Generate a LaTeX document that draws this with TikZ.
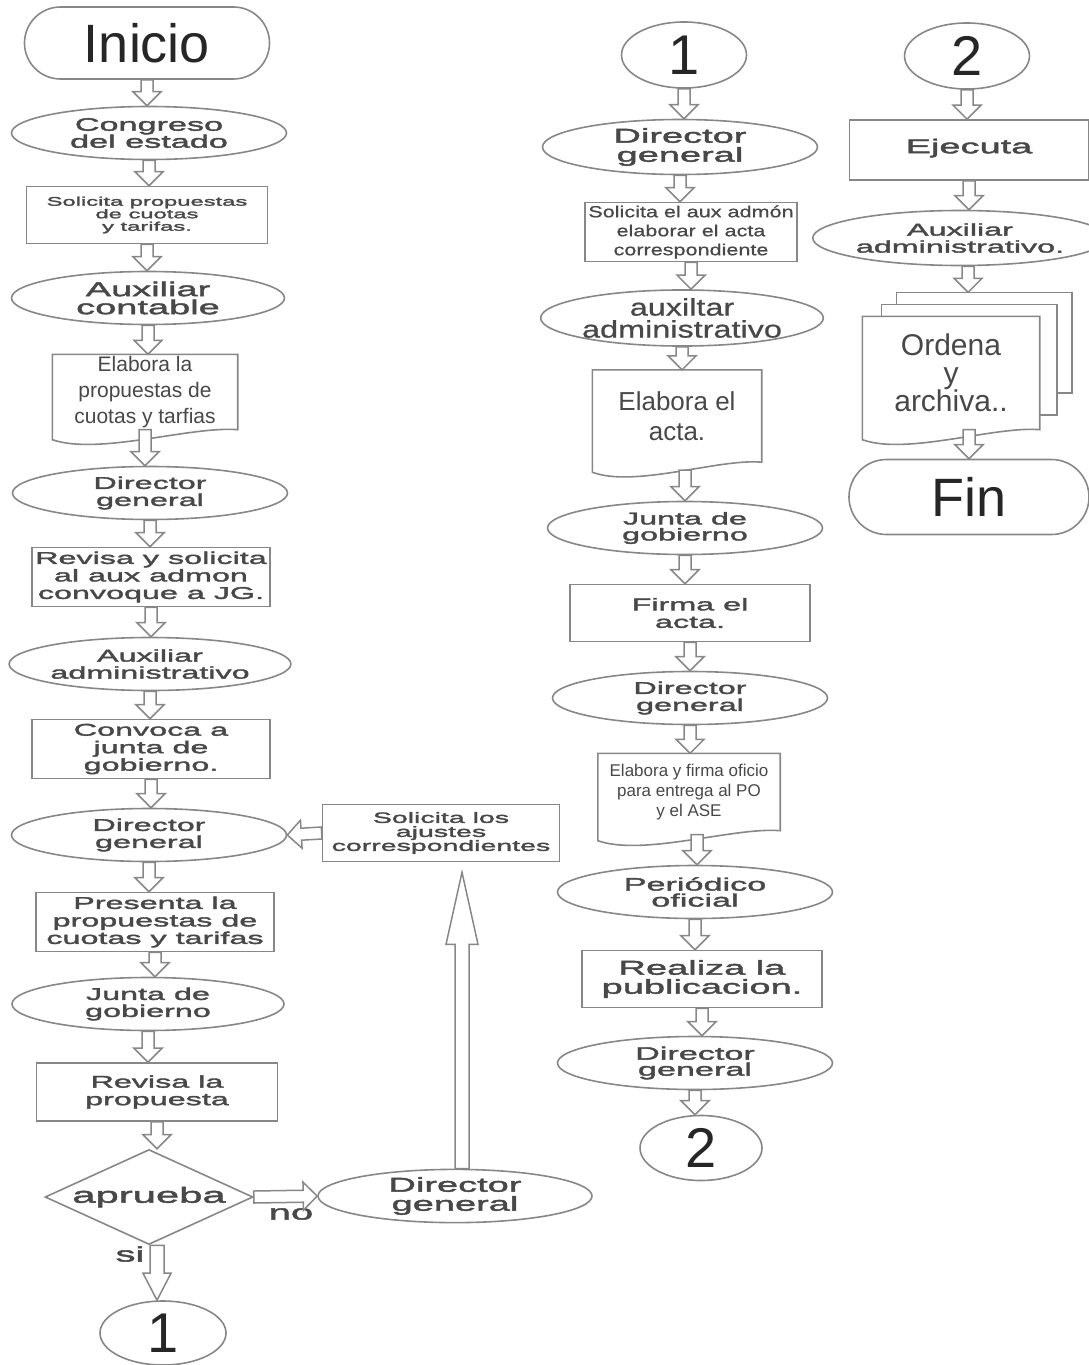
\documentclass[tikz,border=0pt]{standalone}
\usepackage{fontspec}
\setmainfont{Liberation Sans}
\newfontfamily\ancha[FakeStretch=1.9,FakeBold=2.2]{Liberation Sans}
\newfontfamily\media[FakeStretch=1.35,FakeBold=0.8]{Liberation Sans}
\usetikzlibrary{shapes.geometric,shapes.misc,calc,backgrounds}

\definecolor{linea}{RGB}{135,135,135}
\definecolor{texto}{RGB}{72,72,72}
\newcommand\fa[2]{\fontsize{#1}{#2}\selectfont}

\def\fcuer{6pt}\def\fpun{14pt}\def\fcab{14pt}
\newcommand\flecha[2]{%
  \coordinate (fa) at (#1);
  \coordinate (fb) at (#2);
  \coordinate (fh) at ($(fb)!\fcab!(fa)$);
  \draw [hueca] ($(fa)!\fcuer!90:(fb)$) -- ($(fh)!\fcuer!90:(fb)$) -- ($(fh)!\fpun!90:(fb)$)
    -- (fb) -- ($(fh)!\fpun!-90:(fb)$) -- ($(fh)!\fcuer!-90:(fb)$) -- ($(fa)!\fcuer!-90:(fb)$) -- cycle;}
\newcommand\bajar[2]{\flecha{#1.south}{#1.south |- #2.north}}
\newcommand\documento[1]{%
  \begin{scope}[on background layer]
  \draw [borde, fill=white] (#1.south east) -- (#1.north east) -- (#1.north west)
    -- ($(#1.south west)+(0,10)$) .. controls ($(#1.south west)!0.5!(#1.south)+(0,26)$)
    and ($(#1.south east)!0.5!(#1.south)+(0,-4)$) .. (#1.south east) -- cycle;
  \end{scope}}

\begin{document}
\begin{tikzpicture}[x=1pt, y=-1pt,
  borde/.style={draw=linea, line width=1.6pt},
  hueca/.style={draw=linea, line width=1.5pt, fill=white, line join=miter},
  elipse/.style={ellipse, borde, align=center, inner sep=0pt, text=texto,
    minimum width=275, minimum height=53, font=\ancha\fa{17}{17}},
  caja/.style={rectangle, borde, align=center, inner sep=0pt, text=texto,
    minimum width=238, minimum height=59, font=\ancha\fa{17}{17.5}},
  doc/.style={rectangle, align=center, inner sep=0pt, text=texto},
  term/.style={rounded rectangle, borde, inner sep=0pt, text=black!85,
    minimum width=245, minimum height=72, font=\fa{54}{54}},
  conector/.style={ellipse, borde, inner sep=0pt, text=black!85,
    minimum width=125, minimum height=66, font=\fa{56}{56}},
  decision/.style={diamond, aspect=2.2, borde, inner sep=0pt, text=texto,
    minimum width=208, minimum height=95, font=\ancha\fa{22}{22}},
  etiqueta/.style={inner sep=0pt, text=texto, font=\ancha\fa{21}{21}}]

\useasboundingbox (0,0) rectangle (1089,1365);

% columna izquierda
\node [term] (inicio) at (147,43) {Inicio};
\node [elipse, font=\ancha\fa{18}{17}] (congreso) at (149,133) {Congreso\\del estado};
\node [caja, minimum width=241, minimum height=57, font=\ancha\fa{12.5}{12.5}] (solprop) at (147,215) {Solicita propuestas\\de cuotas\\y tarifas.};
\node [elipse, minimum width=273, font=\ancha\fa{20}{18}] (auxcont) at (148,298) {Auxiliar\\contable};
\node [doc, minimum width=185, minimum height=75, font=\fa{21}{26}] (elabprop) at (145,392) {Elabora la\\propuestas de\\cuotas y tarfias};
\node [elipse] (dir1) at (150,493) {Director\\general};
\node [caja] (revisa) at (151,577) {Revisa y solicita\\al aux admon\\convoque a JG.};
\node [elipse] (auxadm1) at (150,664) {Auxiliar\\administrativo};
\node [caja] (convoca) at (151,749) {Convoca a\\junta de\\gobierno.};
\node [elipse] (dir2) at (149,835) {Director\\general};
\node [caja] (presenta) at (155,922) {Presenta la\\propuestas de\\cuotas y tarifas};
\node [elipse, minimum width=272] (junta1) at (148,1004) {Junta de\\gobierno};
\node [caja, minimum width=241, minimum height=58] (revprop) at (157,1092) {Revisa la\\propuesta};
\node [decision] (aprueba) at (149,1197) {aprueba};
\node [elipse, minimum width=274, minimum height=52, font=\ancha\fa{20}{19}] (dir3) at (455,1196) {Director\\general};
\node [caja, minimum width=237, minimum height=57, font=\ancha\fa{15}{14}] (ajustes) at (441,833) {Solicita los\\ajustes\\correspondientes};
\node [conector, minimum width=126, minimum height=64] (uno) at (163,1333) {1};
\node [etiqueta] (no) at (291,1214) {no};
\node [etiqueta] (si) at (130,1254) {si};
\documento{elabprop}

\flecha{inicio.south}{inicio.south |- congreso.north}
\bajar{congreso}{solprop}
\bajar{solprop}{auxcont}
\bajar{auxcont}{elabprop}
\flecha{elabprop.south}{elabprop.south |- dir1.north}
\bajar{dir1}{revisa}
\bajar{revisa}{auxadm1}
\bajar{auxadm1}{convoca}
\bajar{convoca}{dir2}
\bajar{dir2}{presenta}
\bajar{presenta}{junta1}
\bajar{junta1}{revprop}
\bajar{revprop}{aprueba}
\flecha{aprueba.east}{dir3.west}
\flecha{ajustes.west}{dir2.east}
\coordinate (apb) at ($(aprueba.south)+(8,0)$);
{\def\fcuer{7pt}\def\fpun{14pt}\def\fcab{27pt}\flecha{apb}{apb |- uno.north}}
\coordinate (ajb) at ($(ajustes.south)+(21,10)$);
{\def\fcuer{7pt}\def\fpun{16pt}\def\fcab{72pt}\flecha{ajb |- dir3.north}{ajb}}

% columna central
\node [conector] (uno2) at (684,55) {1};
\node [elipse, minimum height=55, font=\ancha\fa{20}{19}] (dir4) at (680,147) {Director\\general};
\node [caja, minimum width=212, minimum height=59, font=\media\fa{16}{19}] (solacta) at (691,232) {Solicita el aux admón\\elaborar el acta\\correspondiente};
\node [elipse, font=\media\fa{24}{22}] (auxadm2) at (682,318) {auxiltar\\administrativo};
\node [doc, minimum width=169, minimum height=92, font=\fa{26}{30}] (elabacta) at (677,416) {Elabora el\\acta.};
\node [elipse, font=\ancha\fa{17}{16}] (junta2) at (685,528) {Junta de\\gobierno};
\node [caja, minimum width=240, minimum height=57] (firma) at (690,613) {Firma el\\acta.};
\node [elipse] (dir5) at (690,698) {Director\\general};
\node [doc, minimum width=182, minimum height=77, font=\fa{17}{20}] (oficio) at (689,792) {Elabora y firma oficio\\para entrega al PO\\y el ASE};
\node [elipse, font=\ancha\fa{18}{16}] (periodico) at (695,892) {Periódico\\oficial};
\node [caja, minimum width=240, minimum height=57, font=\ancha\fa{20}{19}] (publica) at (702,979) {Realiza la\\publicacion.};
\node [elipse, font=\ancha\fa{18}{16}] (dir6) at (695,1063) {Director\\general};
\node [conector, minimum width=122, minimum height=65] (dos) at (701,1148) {2};
\documento{elabacta}
\documento{oficio}

\bajar{uno2}{dir4}
\bajar{dir4}{solacta}
\bajar{solacta}{auxadm2}
\bajar{auxadm2}{elabacta}
\coordinate (actab) at ($(elabacta.south)+(8,8)$);
\flecha{actab}{actab |- junta2.north}
\bajar{junta2}{firma}
\bajar{firma}{dir5}
\bajar{dir5}{oficio}
\coordinate (oficiob) at ($(oficio.south)+(8,4)$);
\flecha{oficiob}{oficiob |- periodico.north}
\bajar{periodico}{publica}
\bajar{publica}{dir6}
\bajar{dir6}{dos}

% columna derecha
\node [conector] (dos2) at (967,56) {2};
\node [caja, minimum width=239, minimum height=60, font=\ancha\fa{20}{19}] (ejecuta) at (969,150) {\raisebox{8pt}{Ejecuta}};
\node [elipse, minimum width=262, minimum height=55, font=\ancha\fa{17}{17}] (auxadm3) at (960,238) {Auxiliar\\administrativo.};
\node [doc, minimum width=177, minimum height=113, font=\fa{30}{28}] (ordena) at (951,373) {Ordena\\y\\archiva..};
\node [term, minimum width=240, minimum height=75] (fin) at (969,497) {Fin};
\begin{scope}[on background layer]
\draw [borde, fill=white] ($(ordena.north west)+(34,-24)$) rectangle ($(ordena.south east)+(32,-37)$);
\draw [borde, fill=white] ($(ordena.north west)+(19,-12)$) rectangle ($(ordena.south east)+(17,-15)$);
\end{scope}
\documento{ordena}
\coordinate (pila) at ($(ordena.north west)+(34,-24)$);

\bajar{dos2}{ejecuta}
\flecha{ejecuta.south}{ejecuta.south |- auxadm3.north}
\coordinate (auxb) at ($(auxadm3.south)+(8,0)$);
\flecha{auxb}{auxb |- pila}
\flecha{ordena.south -| fin.north}{fin.north}
\end{tikzpicture}
\end{document}
